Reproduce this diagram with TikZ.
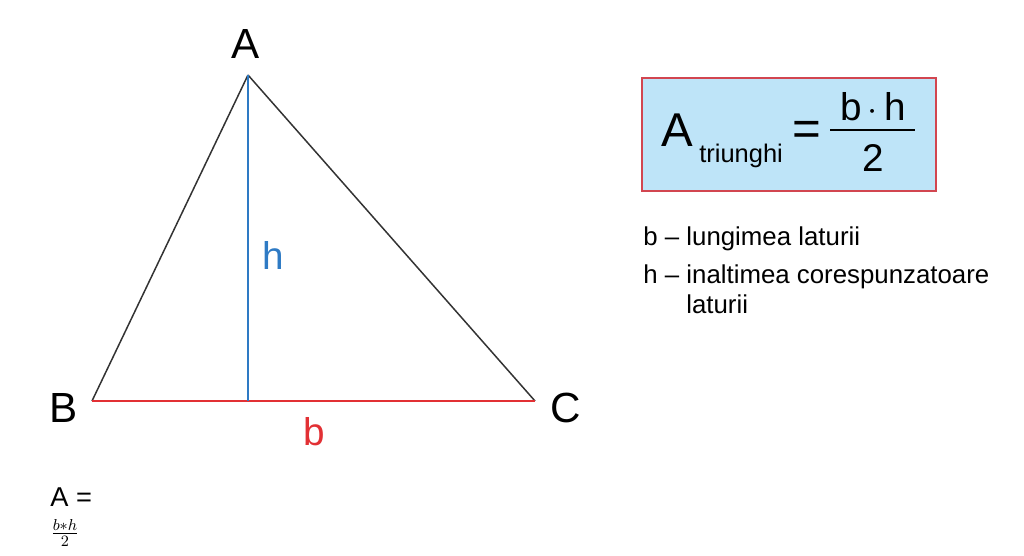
\documentclass[tikz,border=0pt]{standalone}
\usepackage{fontspec}
\setmainfont{Liberation Sans}
\usepackage{amsmath}
\usetikzlibrary{calc}
\definecolor{hblue}{RGB}{46,122,196}
\definecolor{bred}{RGB}{226,48,52}
\definecolor{boxfill}{RGB}{190,228,248}
\definecolor{boxline}{RGB}{210,70,80}
\tikzset{
    side/.style={draw=black!80,line width=0.85pt},
    vlabel/.style={font=\fontsize{24}{28}\selectfont},
    note/.style={anchor=base west,font=\fontsize{14.7}{17}\selectfont,inner sep=0pt}
}

\begin{document}
\begin{tikzpicture}[x=0.02cm,y=0.02cm]
    \useasboundingbox (0,0) rectangle (1024,555);
    \coordinate (A) at (248,480);
    \coordinate (B) at (92,154);
    \coordinate (C) at (535,154);
    \coordinate (H) at (248,154);
    \draw[side] (A)--(B);
    \draw[side] (A)--(C);
    \draw[bred,line width=1.6pt] (B)--(C);
    \draw[hblue,line width=1.7pt] (A)--(H);
    \node[vlabel] (la) at (246,511) {A};
    \node[vlabel] (lb) at (64,147) {B};
    \node[vlabel] (lc) at (566,147) {C};
    \node[vlabel,text=hblue,font=\fontsize{22}{26}\selectfont] (lh) at (273,300) {h};
    \node[vlabel,text=bred,font=\fontsize{22}{26}\selectfont] (lbase) at (314,123) {b};
    % formula box
    \node[draw=boxline,fill=boxfill,line width=1pt,minimum width=294*0.02cm,minimum height=113*0.02cm,anchor=north west,inner sep=0pt] (box) at (641,478) {};
    \node[font=\fontsize{27}{30}\selectfont,inner sep=0pt,anchor=base west] (ba) at (661,408) {A};
    \node[font=\fontsize{14.5}{16}\selectfont,inner sep=0pt,anchor=base west] (bsub) at (699,392) {triunghi};
    \node[font=\fontsize{28}{30}\selectfont,inner sep=0pt] (beq) at (807,422) {=};
    \draw[black,line width=1.3pt] (830,425)--(915,425);
    \node[font=\fontsize{22}{24}\selectfont,inner sep=0pt,anchor=base] (bnum) at (873,434) {b\,$\cdot$\,h};
    \node[font=\fontsize{22}{24}\selectfont,inner sep=0pt,anchor=base] (bden) at (873,383) {2};
    % explanations
    \node[note] (nb) at (643,309) {b – lungimea laturii};
    \node[note] (nh) at (643,272) {h – inaltimea corespunzatoare};
    \node[note] (nh2) at (686,242) {laturii};
    % bottom formula
    \node[font=\fontsize{15.5}{18}\selectfont,inner sep=0pt,anchor=base west] (fa) at (50,49) {A =};
    \node[inner sep=0pt,font=\fontsize{13}{15}\selectfont] (ff) at (65,22) {$\frac{b*h}{2}$};
\end{tikzpicture}
\end{document}
